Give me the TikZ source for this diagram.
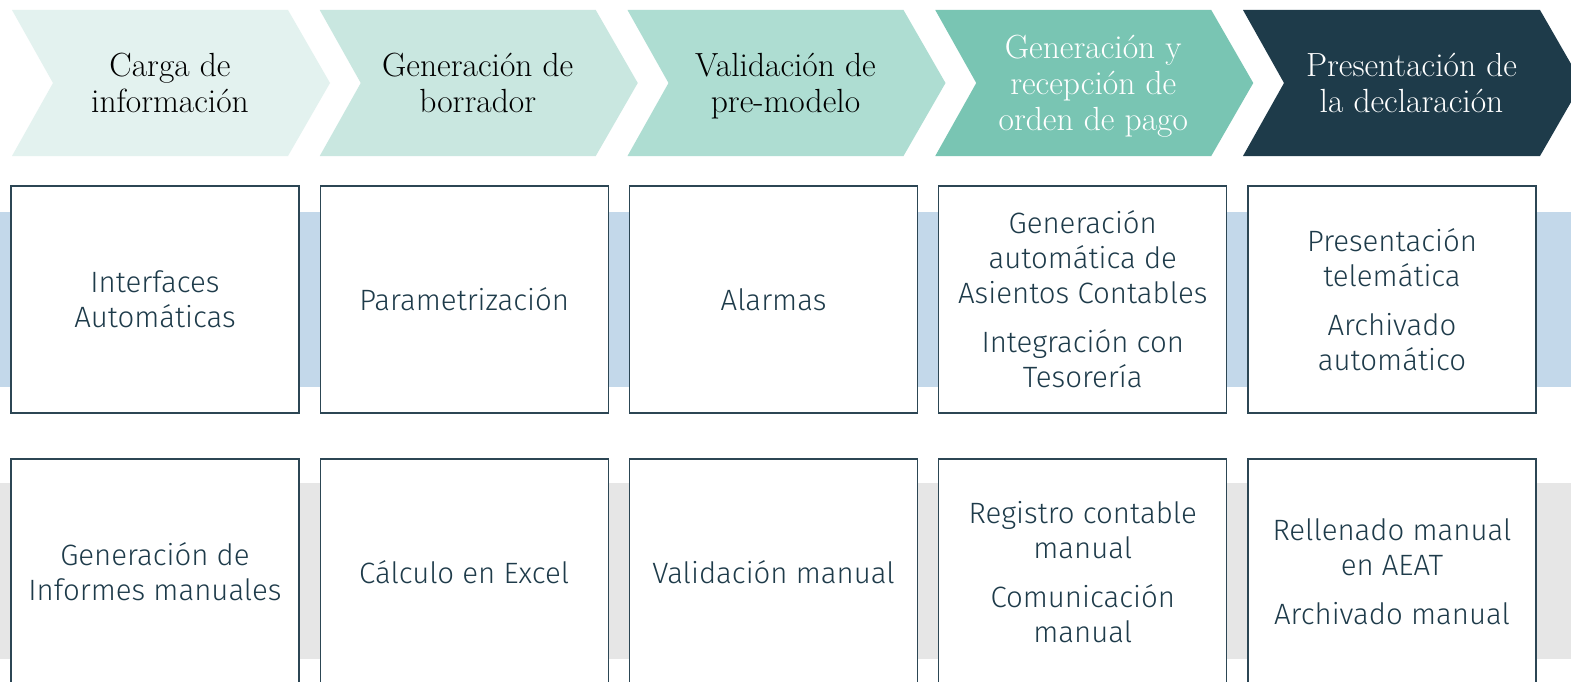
\documentclass[tikz,border=0pt]{standalone}
\usepackage{fontspec}
\setmainfont{Latin Modern Roman}
\newfontfamily\cellfont{Fira Sans Light}

% Colours of the process stages
\definecolor{stageA}{HTML}{E3F2EF}
\definecolor{stageB}{HTML}{C9E7E0}
\definecolor{stageC}{HTML}{AEDDD2}
\definecolor{stageD}{HTML}{79C5B3}
\definecolor{stageE}{HTML}{1E3B4A}
\definecolor{cellline}{HTML}{2C4654}
\definecolor{celltext}{HTML}{1E3B4A}
\definecolor{bandblue}{HTML}{C3D8EA}
\definecolor{bandgray}{HTML}{E6E6E6}

\begin{document}
\begin{tikzpicture}[x=1pt,y=-1pt,
  stagetext/.style={align=center,font=\fontsize{33.5}{36}\selectfont,
    execute at begin node=\strut,execute at end node=\strut},
  cell/.style={draw=cellline,line width=1.3pt,fill=white,minimum width=288pt,
    align=center,text=celltext,font=\cellfont\fontsize{29.4}{35}\selectfont}]
\clip (0,0) rectangle (1571,682);
\fill[white] (0,0) rectangle (1571,682);

% Background bands
\fill[bandblue] (0,212) rectangle (1571,387);
\fill[bandgray] (0,483) rectangle (1571,659);

% Process chevrons (the last one runs off the page)
\foreach \i/\w/\col/\tcol/\txt in {
    0/276/stageA/black/{Carga de\\información},
    1/276/stageB/black/{Generación de\\borrador},
    2/276/stageC/black/{Validación de\\pre-modelo},
    3/276/stageD/white/{Generación y\\recepción de\\orden de pago},
    4/297/stageE/white/{Presentación de\\la declaración}} {
    \pgfmathsetmacro{\x}{12+307.75*\i}
    \fill[\col] (\x,10) -- ++(\w,0) -- ++(42,73) -- ++(-42,73) -- ++(-\w,0) -- ++(41,-73) -- cycle;
    \node[stagetext,text=\tcol] (stage\i) at (\x+20+\w/2,88) {\txt};
}

% Automated tasks
\foreach \i/\txt in {
    0/{Interfaces\\Automáticas},
    1/{Parametrización},
    2/{Alarmas},
    3/{Generación\\automática de\\Asientos Contables\\[14pt]Integración con\\Tesorería},
    4/{Presentación\\telemática\\[14pt]Archivado\\automático}} {
    \pgfmathsetmacro{\x}{155+309.25*\i}
    \node[cell,minimum height=227pt] (auto\i) at (\x,299.5) {\txt};
}

% Manual tasks
\foreach \i/\txt in {
    0/{Generación de\\Informes manuales},
    1/{Cálculo en Excel},
    2/{Validación manual},
    3/{Registro contable\\manual\\[14pt]Comunicación\\manual},
    4/{Rellenado manual\\en AEAT\\[14pt]Archivado manual}} {
    \pgfmathsetmacro{\x}{155+309.25*\i}
    \node[cell,minimum height=226pt] (manual\i) at (\x,572) {\txt};
}
\end{tikzpicture}
\end{document}
